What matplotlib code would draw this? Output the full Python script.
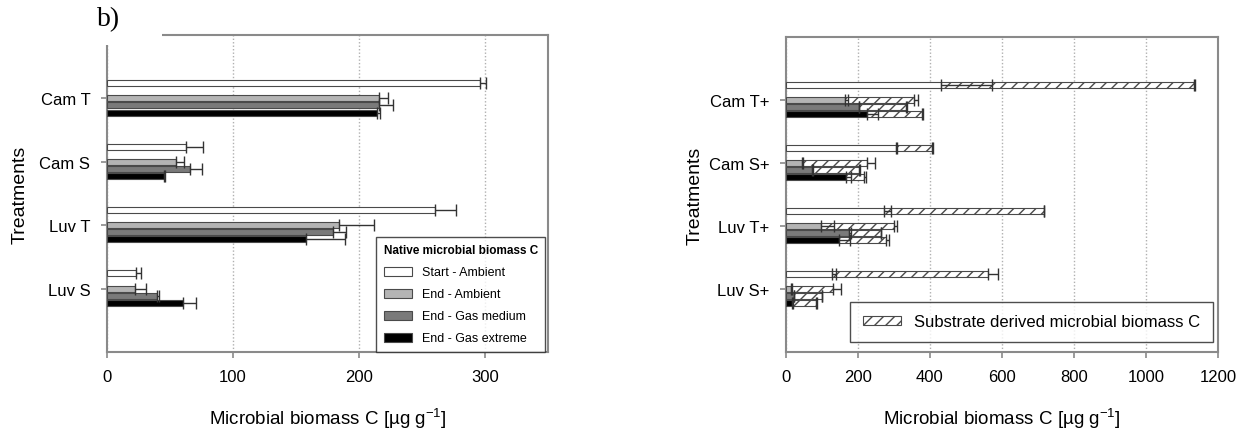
import matplotlib
matplotlib.use("Agg")
import matplotlib.pyplot as plt
import numpy as np
from matplotlib.patches import Patch, Rectangle

plt.rcParams['font.family'] = ['Liberation Sans', 'DejaVu Sans']
plt.rcParams['mathtext.fontset'] = 'custom'
plt.rcParams['mathtext.rm'] = 'Liberation Sans'
plt.rcParams['mathtext.it'] = 'Liberation Sans:italic'
plt.rcParams['mathtext.bf'] = 'Liberation Sans:bold'
plt.rcParams['hatch.linewidth'] = 1.0

# ---------------- data: left panel (native microbial biomass C) ----------------
treatments = ['Cam T', 'Cam S', 'Luv T', 'Luv S']
start_amb = [296, 63, 260, 23]
start_amb_err = [5, 13, 17, 4]
end_amb = [216, 55, 184, 22]
end_amb_err = [7, 6, 28, 9]
end_med = [216, 66, 179, 40]
end_med_err = [11, 9, 11, 1]
end_ext = [214, 45, 158, 60]
end_ext_err = [3, 1, 31, 11]

# ---------------- data: right panel (native + substrate derived) ----------------
treatments_plus = ['Cam T+', 'Cam S+', 'Luv T+', 'Luv S+']
nat_start = [431, 305, 272, 129]
nat_start_err = [140, 4, 19, 9]
nat_amb = [165, 44, 96, 13]
nat_amb_err = [6, 3, 37, 4]
nat_med = [203, 73, 175, 22]
nat_med_err = [1, 1, 5, 1]
nat_ext = [225, 166, 147, 16]
nat_ext_err = [31, 14, 30, 3]

sub_start = [702, 101, 445, 431]
sub_start_err = [3, 2, 1, 30]
sub_amb = [190, 181, 204, 118]
sub_amb_err = [12, 21, 7, 23]
sub_med = [129, 130, 88, 77]
sub_med_err = [3, 2, 2, 2]
sub_ext = [153, 51, 130, 66]
sub_ext_err = [3, 4, 9, 3]

series_labels = ['Start - Ambient', 'End - Ambient', 'End - Gas medium', 'End - Gas extreme']
series_colors = ['#ffffff', '#b4b4b4', '#7a7a7a', '#000000']
offsets = [0.24, 0.0, -0.11, -0.225]
bar_h = 0.095

EDGE = '#4a4a4a'
SPINE = '#8a8a8a'
ECOL = '#333333'

W, H = 1245, 431
fig = plt.figure(figsize=(W / 100, H / 100), dpi=100)
ax1 = fig.add_axes([107 / W, 78 / H, 441 / W, 317 / H])
ax2 = fig.add_axes([786 / W, 78 / H, 432 / W, 315 / H])

ypos = np.array([4, 3, 2, 1], dtype=float)


def style_axes(ax, labels, xlim, xticks, ylabelpad):
    ax.set_xlim(*xlim)
    ax.set_ylim(0, 5)
    ax.set_xticks(xticks)
    ax.set_yticks(ypos)
    ax.set_yticklabels(labels)
    for s in ax.spines.values():
        s.set_color(SPINE)
        s.set_linewidth(1.5)
    ax.tick_params(axis='both', direction='out', length=4, width=1.2,
                   color=SPINE, labelsize=12, pad=8)
    ax.grid(axis='x', color='#b0b0b0', linestyle=(0, (1, 1.5)), linewidth=1.0)
    ax.set_axisbelow(True)
    ax.set_xlabel(r'Microbial biomass C [µg g$^{\mathregular{-1}}$]', fontsize=13.5, labelpad=16)
    ax.set_ylabel('Treatments', fontsize=14, labelpad=ylabelpad)


def err(ax, x, y, e):
    ax.errorbar(x, y, xerr=[np.zeros(len(e)), e], fmt='none', ecolor=ECOL,
                elinewidth=1.0, capsize=4, capthick=1.0, zorder=4)


# ---------------- left panel ----------------
left_vals = [start_amb, end_amb, end_med, end_ext]
left_errs = [start_amb_err, end_amb_err, end_med_err, end_ext_err]
for vals, errs, col, off, lab in zip(left_vals, left_errs, series_colors, offsets, series_labels):
    y = ypos + off
    ax1.barh(y, vals, height=bar_h, color=col, edgecolor=EDGE, linewidth=0.8, label=lab, zorder=3)
    err(ax1, vals, y, errs)

style_axes(ax1, treatments, (0, 350), [0, 100, 200, 300], 8)

handles1 = [Patch(facecolor=c, edgecolor=EDGE, linewidth=0.8) for c in series_colors]
leg1 = ax1.legend(handles1, series_labels, title='Native microbial biomass C',
                  loc='lower right', bbox_to_anchor=(0.994, 0.0), borderaxespad=0,
                  fontsize=9, title_fontproperties={'weight': 'bold', 'size': 8.5},
                  frameon=True, fancybox=False, edgecolor='#222222',
                  handlelength=2.3, handleheight=0.75, labelspacing=0.8,
                  alignment='left', borderpad=0.6)
leg1.get_frame().set_linewidth(1.0)

# ---------------- right panel ----------------
nat_vals = [nat_start, nat_amb, nat_med, nat_ext]
nat_errs = [nat_start_err, nat_amb_err, nat_med_err, nat_ext_err]
sub_vals = [sub_start, sub_amb, sub_med, sub_ext]
sub_errs = [sub_start_err, sub_amb_err, sub_med_err, sub_ext_err]
for nv, ne, sv, se, col, off in zip(nat_vals, nat_errs, sub_vals, sub_errs, series_colors, offsets):
    y = ypos + off
    ax2.barh(y, nv, height=bar_h, color=col, edgecolor=EDGE, linewidth=0.8, zorder=3)
    ax2.barh(y, sv, left=nv, height=bar_h, color='white', edgecolor=EDGE,
             linewidth=0.8, hatch='///', zorder=3)
    err(ax2, nv, y, ne)
    tot = np.array(nv) + np.array(sv)
    err(ax2, tot, y, se)

style_axes(ax2, treatments_plus, (0, 1200), [0, 200, 400, 600, 800, 1000, 1200], 4)

h2 = Patch(facecolor='white', edgecolor=EDGE, hatch='///', linewidth=0.8)
leg2 = ax2.legend([h2], ['Substrate derived microbial biomass C'], loc='lower right',
                  bbox_to_anchor=(0.988, 0.032), borderaxespad=0, fontsize=12,
                  frameon=True, fancybox=False, edgecolor='#222222',
                  handlelength=2.3, handleheight=0.45, borderpad=0.75)
leg2.get_frame().set_linewidth(1.0)

# cover the top-left corner of the left panel (as in the reference) and add panel tag
fig.patches.append(Rectangle((90 / W, 1 - 46 / H), 72 / W, 46 / H, transform=fig.transFigure,
                             facecolor='white', edgecolor='none', zorder=10))
fig.text(97 / W, 1 - 26 / H, 'b)', family='Liberation Serif', fontsize=20, zorder=11)

fig.savefig('out.png', dpi=100)
